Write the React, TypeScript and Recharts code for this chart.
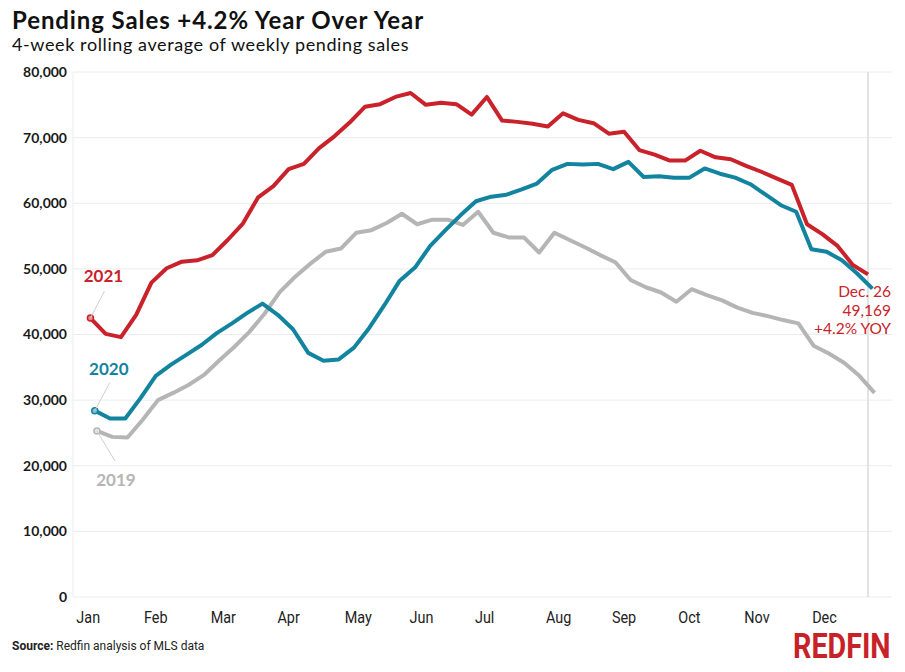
import React from 'react';
import { LineChart, Line, XAxis, YAxis, CartesianGrid, ReferenceLine } from 'recharts';

const RED = '#c9222b';
const BLUE = '#13849f';
const GRAY = '#b5b5b5';

// day of year (Jan 1 = 0) of the first weekly reading in each year
const firstDay2019 = 5;
const firstDay2020 = 4;
const firstDay2021 = 2;

const sales2019 = [
  25300, 24400, 24300, 27000, 30000, 31100, 32300, 33800, 36000, 38100,
  40400, 43200, 46500, 48800, 50800, 52600, 53100, 55500, 55900, 57000,
  58400, 56800, 57500, 57500, 56700, 58700, 55500, 54800, 54800, 52500,
  55500, 54400, 53300, 52100, 51000, 48300, 47200, 46400, 45000, 46900,
  46000, 45200, 44100, 43300, 42800, 42200, 41700, 38300, 37100, 35700,
  33700, 31100,
];

const sales2020 = [
  28400, 27200, 27200, 30300, 33700, 35400, 36900, 38400, 40200, 41700,
  43300, 44700, 43000, 40800, 37200, 36000, 36200, 38000, 41000, 44500,
  48200, 50200, 53500, 55900, 58200, 60300, 61000, 61300, 62100, 63000,
  65100, 66000, 65900, 66000, 65200, 66300, 64000, 64100, 63900, 63900,
  65300, 64500, 63900, 62900, 61300, 59700, 58700, 53000, 52600, 51300,
  49300, 47000,
];

const sales2021 = [
  42500, 40100, 39600, 43000, 47900, 50100, 51100, 51300, 52100, 54400,
  56900, 60900, 62600, 65200, 66000, 68400, 70200, 72300, 74700, 75100,
  76200, 76800, 75000, 75300, 75100, 73500, 76200, 72600, 72400, 72100,
  71700, 73700, 72700, 72200, 70600, 70900, 68100, 67400, 66500, 66500,
  68000, 67000, 66700, 65700, 64800, 63800, 62800, 56800, 55300, 53500,
  50600, 49169,
];

const monthLabels = ['Jan', 'Feb', 'Mar', 'Apr', 'May', 'Jun', 'Jul', 'Aug', 'Sep', 'Oct', 'Nov', 'Dec'];
const monthTickDays = [1, 32, 63, 93, 125, 154, 183, 217, 247, 277, 308, 339];
const yTicks = [0, 10000, 20000, 30000, 40000, 50000, 60000, 70000, 80000];

const lastDay2021 = firstDay2021 + 7 * (sales2021.length - 1);

const toPoints = (first: number, values: number[]) =>
  values.map((v, i) => ({ day: first + 7 * i, value: v }));

const data2019 = toPoints(firstDay2019, sales2019);
const data2020 = toPoints(firstDay2020, sales2020);
const data2021 = toPoints(firstDay2021, sales2021);

const fmt = (v: number) => v.toLocaleString('en-US');

// year tag next to the first point, with a thin leader line
const yearLabel = (text: string, color: string, lx: number, ly: number, tx: number, ty: number) =>
  (props: any) => {
    const { x, y, index } = props;
    if (index !== 0) return <g key={`l${index}`} />;
    return (
      <g key="yl">
        <line x1={x} y1={y} x2={x + lx} y2={y + ly} stroke="#cfcfcf" strokeWidth={1} />
        <text x={x + tx} y={y + ty} textAnchor="middle" fill={color}
          style={{ fontFamily: 'Lato', fontSize: 17, fontWeight: 700 }}>{text}</text>
      </g>
    );
  };

const endLabel = (props: any) => {
  const { x, y, index } = props;
  if (index !== sales2021.length - 1) return <g key={`e${index}`} />;
  const style = { fontFamily: 'Lato', fontSize: 15.5 };
  return (
    <g key="end">
      <text x={x + 23} y={y + 23} textAnchor="end" fill={RED} style={style}>Dec. 26</text>
      <text x={x + 23} y={y + 41.5} textAnchor="end" fill={RED} style={style}>{fmt(sales2021[sales2021.length - 1])}</text>
      <text x={x + 23} y={y + 60} textAnchor="end" fill={RED} style={style}>+4.2% YOY</text>
    </g>
  );
};

const startDot = (color: string, light: string) => (props: any) => {
  const { cx, cy, index } = props;
  if (index !== 0) return <g key={`d${index}`} />;
  return <circle key="d0" cx={cx} cy={cy} r={3} fill={light} stroke={color} strokeWidth={1.5} />;
};

const narrow = '"Liberation Sans Narrow", "Roboto", sans-serif';

const MonthTick = (props: any) => {
  const { x, y, payload } = props;
  return (
    <text x={x} y={y + 14} textAnchor="middle" fill="#222" transform={`translate(${x} 0) scale(0.9 1) translate(${-x} 0)`}
      style={{ fontFamily: narrow, fontSize: 16 }}>
      {monthLabels[monthTickDays.indexOf(payload.value)]}
    </text>
  );
};

export default function App() {
  return (
    <div style={{ position: 'absolute', left: 0, top: 0, width: 905, height: 672, background: '#fff', fontFamily: 'Lato' }}>
      <div style={{ position: 'absolute', left: 12, top: 5, fontSize: 24, letterSpacing: 0.9, fontWeight: 700, color: '#111', whiteSpace: 'nowrap' }}>
        Pending Sales +4.2% Year Over Year
      </div>
      <div style={{ position: 'absolute', left: 12, top: 33, fontSize: 18, letterSpacing: 0.6, color: '#111', whiteSpace: 'nowrap' }}>
        4-week rolling average of weekly pending sales
      </div>

      <LineChart width={905} height={672} margin={{ top: 72, right: 13, bottom: 45, left: 0 }}>
        <CartesianGrid vertical={false} stroke="#ececec" />
        <XAxis
          type="number"
          dataKey="day"
          domain={[-6, 370]}
          ticks={monthTickDays}
          interval={0}
          allowDataOverflow
          axisLine={false}
          tickLine={false}
          height={30}
          tick={<MonthTick />}
          tickMargin={6}
        />
        <YAxis
          type="number"
          domain={[0, 80000]}
          ticks={yTicks}
          interval={0}
          width={73}
          axisLine={{ stroke: '#ececec' }}
          tickLine={false}
          tickSize={4}
          tickFormatter={fmt}
          tick={{ fill: '#1a1a1a', fontSize: 14, fontFamily: 'Lato', fontWeight: 700 }}
        />
        <ReferenceLine x={lastDay2021} stroke="#e2e2e2" strokeWidth={2} />
        <Line
          data={data2019}
          dataKey="value"
          stroke={GRAY}
          strokeWidth={4}
          strokeLinejoin="round"
          dot={startDot(GRAY, '#e6e6e6')}
          activeDot={false}
          label={yearLabel('2019', GRAY, 18, 30, 19, 55)}
          isAnimationActive={false}
        />
        <Line
          data={data2020}
          dataKey="value"
          stroke={BLUE}
          strokeWidth={4}
          strokeLinejoin="round"
          dot={startDot(BLUE, '#7fc0cf')}
          activeDot={false}
          label={yearLabel('2020', BLUE, 15, -28, 14, -36)}
          isAnimationActive={false}
        />
        <Line
          data={data2021}
          dataKey="value"
          stroke={RED}
          strokeWidth={4}
          strokeLinejoin="round"
          dot={startDot(RED, '#ec8b8f')}
          activeDot={false}
          label={(p: any) => (p.index === 0 ? yearLabel('2021', RED, 14, -27, 13, -36)(p) : endLabel(p))}
          isAnimationActive={false}
        />
      </LineChart>

      <div style={{ position: 'absolute', left: 12, top: 639, fontSize: 12, color: '#222', fontFamily: narrow, whiteSpace: 'nowrap' }}>
        <b>Source:</b> Redfin analysis of MLS data
      </div>
      <div style={{ position: 'absolute', left: 793, top: 626, fontSize: 35, fontWeight: 700, color: '#c82127', fontFamily: narrow, whiteSpace: 'nowrap', transform: 'scaleX(0.82)', transformOrigin: 'left top' }}>
        REDFIN
      </div>
    </div>
  );
}
